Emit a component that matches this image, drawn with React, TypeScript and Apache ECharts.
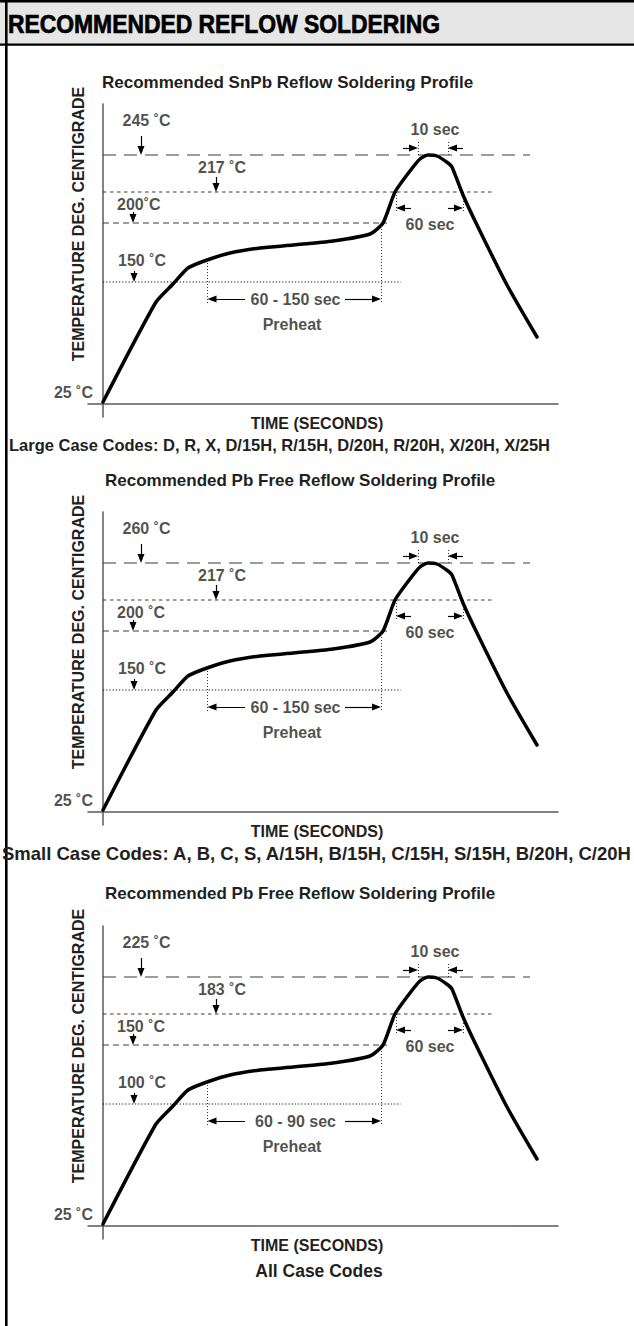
import React, { useEffect, useRef } from "react";
import * as echarts from "echarts";

// ---------------- texts ----------------
const headerText = "RECOMMENDED REFLOW SOLDERING";
const panelTitles = [
  "Recommended SnPb Reflow Soldering Profile",
  "Recommended Pb Free Reflow Soldering Profile",
  "Recommended Pb Free Reflow Soldering Profile",
];
const caseCodeCaptions = [
  "Large Case Codes: D, R, X, D/15H, R/15H, D/20H, R/20H, X/20H, X/25H",
  "Small Case Codes: A, B, C, S, A/15H, B/15H, C/15H, S/15H, B/20H, C/20H",
  "All Case Codes",
];
const yAxisName = "TEMPERATURE DEG. CENTIGRADE";
const xAxisName = "TIME (SECONDS)";
const baseTempLabel = "25 ˚C";
// reference levels per panel: peak, liquidus, soak max, soak min
const snpbLevelLabels = ["245 ˚C", "217 ˚C", "200˚C", "150 ˚C"];
const pbFreeLevelLabels = ["260 ˚C", "217 ˚C", "200 ˚C", "150 ˚C"];
const allCaseLevelLabels = ["225 ˚C", "183 ˚C", "150 ˚C", "100 ˚C"];
const panelLevelLabels = [snpbLevelLabels, pbFreeLevelLabels, allCaseLevelLabels];
const preheatWindowLabels = ["60 - 150 sec", "60 - 150 sec", "60 - 90 sec"];
const peakWindowLabel = "10 sec";
const liquidusWindowLabel = "60 sec";
const preheatLabel = "Preheat";

// ---------------- schematic profile (not to scale) ----------------
// x: relative time, y: relative temperature height
const profileTime = [0, 53, 70, 85, 104, 127, 157, 190, 230, 267, 280, 292, 307, 317, 325, 334, 345, 349, 360, 374, 404, 434];
const profileTemp = [2, 102, 120, 136, 144, 151, 156, 159, 163, 170, 181, 212, 233, 245, 249, 248, 241, 237, 209, 179, 119, 67];
// heights of the reference levels (peak, liquidus, soak max, soak min) and the time where each guide ends
const levelHeights = [249, 212, 181, 122];
const levelLineEnds = [427, 390, 284, 298];
// time windows
const peakWindow = [315, 345];
const liquidusWindow = [293, 360];
const preheatWindow = [104.5, 278];

// ---------------- layout ----------------
const W = 634;
const H = 1326;
const AXIS_ROW = [404, 812, 1226];
const TITLE_ROW = [82, 480, 893];
const TITLE_LEFT = [102, 105, 105];
const GRID_LEFT = 88;
const GRID_W = 470;
const X_MIN = -15;
const X_MAX = 455;
const Y_MIN = -13;
const Y_MAX = 300;
const FONT = "'Liberation Sans', Arial, Helvetica, sans-serif";
const INK = "#231f20";

function buildOption() {
  const grid: any[] = [];
  const xAxis: any[] = [];
  const yAxis: any[] = [];
  const series: any[] = [];
  const graphic: any[] = [
    { type: "rect", shape: { x: 0, y: 0, width: W, height: 45 }, style: { fill: "#e6e6e6" }, silent: true },
    { type: "line", shape: { x1: 0, y1: 1.2, x2: W, y2: 1.2 }, style: { stroke: "#000", lineWidth: 2.4 }, silent: true },
    { type: "line", shape: { x1: 0, y1: 44.6, x2: W, y2: 44.6 }, style: { stroke: "#000", lineWidth: 2.4 }, silent: true },
    { type: "line", shape: { x1: 6.3, y1: 0, x2: 6.3, y2: H }, style: { stroke: "#000", lineWidth: 2.6 }, silent: true },
    {
      type: "text", x: 8, y: 24, scaleX: 0.915, silent: true,
      style: { text: headerText, font: `bold 25px ${FONT}`, fill: "#000", stroke: "#000", lineWidth: 0.7, align: "left", verticalAlign: "middle" },
    },
  ];

  const dashes = [[13, 8], [3.5, 3.5], [6, 4], [1.2, 2]];
  const dashColors = ["#3a3a3a", "#3a3a3a", "#3a3a3a", "#111"];
  const levelArrowX = [38, 113, 30, 31];
  const levelArrowLen = [19, 15, 11, 11];
  const levelLabelPos = [[19.5, 284], [95, 237], [14, 200], [15, 143.5]];

  const guide = (x: number, y1: number, y2: number) => [
    { coord: [x, y1], symbol: "none", lineStyle: { type: [1, 2], width: 1, color: "#333" } },
    { coord: [x, y2], symbol: "none" },
  ];
  const arrow = (x1: number, y1: number, x2: number, y2: number) => {
    const len = Math.hypot(x2 - x1, y2 - y1);
    const ex = x2 - ((x2 - x1) / len) * 4.5;
    const ey = y2 - ((y2 - y1) / len) * 4.5;
    return [
      { coord: [x1, y1], symbol: "none", lineStyle: { type: "solid", width: 1.2, color: "#000" } },
      { coord: [ex, ey], symbol: "triangle", symbolSize: [7, 9] },
    ];
  };

  AXIS_ROW.forEach((row, i) => {
    grid.push({ left: GRID_LEFT, width: GRID_W, top: row - Y_MAX, height: Y_MAX - Y_MIN });
    const axisCommon = {
      axisLine: { onZero: true, lineStyle: { color: "#5a5a5a", width: 1.5 } },
      axisTick: { show: false },
      axisLabel: { show: false },
      splitLine: { show: false },
    };
    xAxis.push({ type: "value", gridIndex: i, min: X_MIN, max: X_MAX, ...axisCommon });
    yAxis.push({ type: "value", gridIndex: i, min: Y_MIN, max: Y_MAX, ...axisCommon });

    const ax = { xAxisIndex: i, yAxisIndex: i };

    // reference level guides
    levelHeights.forEach((h, k) => {
      series.push({
        type: "line", ...ax, silent: true, symbol: "none", z: 2,
        data: [[0, h], [levelLineEnds[k], h]],
        lineStyle: { color: dashColors[k], width: 1, type: dashes[k] },
      });
    });

    // annotations (arrows and dotted guides)
    const ml: any[] = [];
    levelHeights.forEach((h, k) => {
      ml.push(arrow(levelArrowX[k], h + levelArrowLen[k], levelArrowX[k], h));
    });
    // 10 sec window
    ml.push(guide(peakWindow[0], levelHeights[0], levelHeights[0] + 14));
    ml.push(guide(peakWindow[1], levelHeights[0], levelHeights[0] + 14));
    ml.push(arrow(peakWindow[0] - 15, levelHeights[0] + 7, peakWindow[0], levelHeights[0] + 7));
    ml.push(arrow(peakWindow[1] + 15, levelHeights[0] + 7, peakWindow[1], levelHeights[0] + 7));
    // 60 sec window above liquidus
    ml.push(guide(liquidusWindow[0], levelHeights[1], levelHeights[1] - 20));
    ml.push(guide(liquidusWindow[1], levelHeights[1], levelHeights[1] - 20));
    ml.push(arrow(liquidusWindow[0] + 15, levelHeights[1] - 16, liquidusWindow[0], levelHeights[1] - 16));
    ml.push(arrow(liquidusWindow[1] - 15, levelHeights[1] - 16, liquidusWindow[1], levelHeights[1] - 16));
    // preheat window
    ml.push(guide(preheatWindow[0], levelHeights[3] + 22, 100));
    ml.push(guide(preheatWindow[1], levelHeights[2], 100));
    ml.push(arrow(142, 105, preheatWindow[0], 105));
    ml.push(arrow(242, 105, preheatWindow[1], 105));

    series.push({
      type: "line", ...ax, silent: true, z: 5,
      data: profileTime.map((t, k) => [t, profileTemp[k]]),
      showSymbol: false, symbol: "none", smooth: 0.2,
      lineStyle: { color: "#000", width: 3.5, cap: "round", join: "round" },
      markLine: {
        silent: true, animation: false, symbol: ["none", "none"],
        label: { show: false },
        lineStyle: { type: "solid", color: "#000", width: 1.2 },
        emphasis: { disabled: true },
        data: ml,
      },
    });

    // in-plot texts
    const labels = panelLevelLabels[i];
    const txt = (x: number, y: number, text: string, align = "center") => ({
      value: [x, y], label: { formatter: text, align },
    });
    const textData = [
      ...levelLabelPos.map((p, k) => txt(p[0], p[1], labels[k], "left")),
      txt((peakWindow[0] + peakWindow[1]) / 2 + 2, 275, peakWindowLabel),
      txt((liquidusWindow[0] + liquidusWindow[1]) / 2 + 0.5, 180, liquidusWindowLabel),
      txt(192.5, 105, preheatWindowLabels[i]),
      txt(189, 80, preheatLabel),
      txt(-10, 12, baseTempLabel, "right"),
    ];
    series.push({
      type: "scatter", ...ax, silent: true, clip: false, z: 10,
      symbolSize: 1, itemStyle: { color: "rgba(0,0,0,0)" },
      label: {
        show: true, position: "inside", verticalAlign: "middle",
        color: INK, fontFamily: FONT, fontWeight: "bold", fontSize: 16,
      },
      data: textData,
    });

    // panel texts outside the plot
    graphic.push({
      type: "text", x: TITLE_LEFT[i], y: TITLE_ROW[i], silent: true,
      style: { text: panelTitles[i], font: `bold 17px ${FONT}`, fill: INK, align: "left", verticalAlign: "middle" },
    });
    graphic.push({
      type: "text", x: 78, y: row - 180, rotation: Math.PI / 2, silent: true,
      style: { text: yAxisName, font: `bold 16px ${FONT}`, fill: INK, align: "center", verticalAlign: "middle" },
    });
    graphic.push({
      type: "text", x: 317, y: row + 19, silent: true,
      style: { text: xAxisName, font: `bold 16px ${FONT}`, fill: INK, align: "center", verticalAlign: "middle" },
    });
  });

  graphic.push({
    type: "text", x: 9, y: 445, silent: true,
    style: { text: caseCodeCaptions[0], font: `bold 16.5px ${FONT}`, fill: INK, align: "left", verticalAlign: "middle" },
  });
  graphic.push({
    type: "text", x: 2, y: 853, silent: true,
    style: { text: caseCodeCaptions[1], font: `bold 18.5px ${FONT}`, fill: INK, align: "left", verticalAlign: "middle" },
  });
  graphic.push({
    type: "text", x: 319, y: 1271, silent: true,
    style: { text: caseCodeCaptions[2], font: `bold 17.5px ${FONT}`, fill: INK, align: "center", verticalAlign: "middle" },
  });

  return {
    animation: false,
    backgroundColor: "#ffffff",
    grid,
    xAxis,
    yAxis,
    series,
    graphic,
  };
}

export default function App() {
  const ref = useRef<HTMLDivElement>(null);
  useEffect(() => {
    if (!ref.current) return;
    const chart = echarts.init(ref.current, undefined, { renderer: "svg" });
    chart.setOption(buildOption() as any);
    return () => chart.dispose();
  }, []);
  return (
    <div
      ref={ref}
      style={{ position: "absolute", left: 0, top: 0, width: W, height: H }}
    />
  );
}
